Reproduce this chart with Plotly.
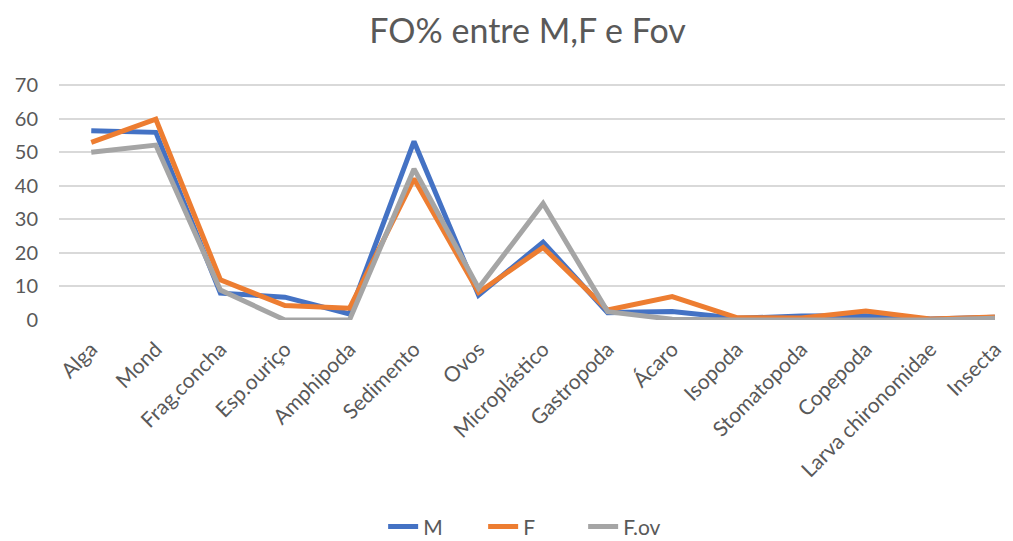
import plotly.graph_objects as go

categories = ["Alga", "Mond", "Frag.concha", "Esp.ouriço", "Amphipoda", "Sedimento", "Ovos",
              "Microplástico", "Gastropoda", "Ácaro", "Isopoda", "Stomatopoda", "Copepoda",
              "Larva chironomidae", "Insecta"]
M = [56.4, 55.9, 8.0, 6.8, 1.8, 53.2, 7.4, 23.2, 2.2, 2.5, 0.5, 1.2, 1.3, 0.3, 0.8]
F = [52.9, 59.8, 12.0, 4.3, 3.5, 42.1, 8.2, 21.6, 3.0, 7.0, 0.7, 0.6, 2.7, 0.3, 0.9]
Fov = [50.0, 52.1, 8.9, 0.0, 0.0, 45.0, 9.5, 34.7, 2.5, 0.2, 0.0, 0.0, 0.0, 0.0, 0.5]
y_ticks = [0, 10, 20, 30, 40, 50, 60, 70]

series = [("M", M, "#4472C4"), ("F", F, "#ED7D31"), ("F.ov", Fov, "#A5A5A5")]
font = "Lato, Noto Sans, sans-serif"

fig = go.Figure()
for name, vals, col in series:
    fig.add_trace(go.Scatter(x=categories, y=vals, name=name, mode="lines",
                             line=dict(color=col, width=5), cliponaxis=False))

fig.update_layout(
    width=1005, height=533,
    paper_bgcolor="white", plot_bgcolor="white",
    margin=dict(l=51, r=0, t=76, b=221, autoexpand=False),
    title=dict(text="FO% entre M,F e Fov", x=0.517, xanchor="center", y=0.957, yanchor="middle",
               font=dict(family=font, size=34, color="#595959")),
    xaxis=dict(type="category", range=[-0.5, 14.28], tickangle=-45, showgrid=False,
               showline=False, ticks="", automargin=False, ticklabelstandoff=12,
               tickfont=dict(family=font, size=21, color="#595959")),
    yaxis=dict(range=[0, 70.3], tickvals=y_ticks, showgrid=True, gridcolor="#D9D9D9", gridwidth=1.5,
               zeroline=False, showline=False, ticks="", automargin=False,
               ticklabelstandoff=20,
               tickfont=dict(family=font, size=20, color="#595959")),
    legend=dict(orientation="h", x=0.497, xanchor="center", y=-0.877, yanchor="middle",
                font=dict(family=font, size=21, color="#595959"), entrywidth=55,
                entrywidthmode="pixels"),
)

fig.write_html("out.html")
